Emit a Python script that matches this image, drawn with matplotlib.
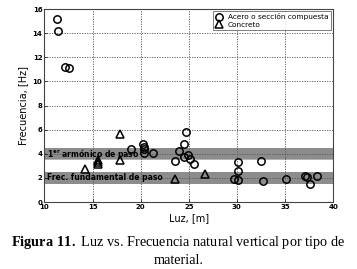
import numpy as np
import matplotlib.pyplot as plt

plt.rcParams['mathtext.fontset'] = 'custom'
plt.rcParams['mathtext.bf'] = 'Liberation Serif:bold'
plt.rcParams['mathtext.rm'] = 'Liberation Serif'
plt.rcParams['mathtext.sf'] = 'DejaVu Sans:bold'

# acero o seccion compuesta
luz_acero = [11.3, 11.45, 12.15, 12.5, 19.0, 20.25, 20.3, 20.3, 20.35, 21.3, 23.55, 24.0,
             24.5, 24.7, 24.5, 24.9, 25.1, 25.55, 30.1, 30.1, 29.7, 30.1, 32.55, 32.75,
             35.1, 37.05, 37.3, 37.6, 38.35]
frec_acero = [15.2, 14.2, 11.2, 11.1, 4.42, 4.78, 4.6, 4.37, 4.1, 4.03, 3.4, 4.25,
              4.78, 5.8, 3.7, 3.9, 3.57, 3.12, 3.35, 2.55, 1.93, 1.82, 3.37, 1.74,
              1.91, 2.18, 2.1, 1.47, 2.15]

# concreto
luz_conc = [14.2, 15.6, 15.6, 15.55, 17.85, 17.85, 23.55, 26.7]
frec_conc = [2.72, 3.45, 3.28, 3.18, 5.6, 3.48, 1.9, 2.3]

# bandas de frecuencia de paso
bandas = [(3.5, 4.5, '1$^{\\mathsf{er}}$ armónico de paso'), (1.5, 2.5, 'Frec. fundamental de paso')]

fig = plt.figure(figsize=(3.57, 2.69), dpi=100)
ax = fig.add_axes([0.1246, 0.249, 0.8084, 0.7175])

for b in bandas:
    ax.axhspan(b[0], b[1], color='#8c8c8c', lw=0, zorder=0)
    ax.text(10.3, (b[0] + b[1]) / 2, b[2], fontsize=5.5, fontweight='bold',
            va='center', ha='left', zorder=1)
ax.axhspan(3.5, 3.6, color='#b4b4b4', lw=0, zorder=0)

ax.plot(luz_acero, frec_acero, 'o', mfc='none', mec='black', mew=1.1, ms=5.3,
        label='Acero o sección compuesta', zorder=3)
ax.plot(luz_conc, frec_conc, '^', mfc='none', mec='black', mew=1.1, ms=5.8,
        label='Concreto', zorder=3)

ax.set_xlim(10, 40)
ax.set_ylim(0, 16)
ax.set_xticks([10, 15, 20, 25, 30, 35, 40])
ax.set_yticks([0, 2, 4, 6, 8, 10, 12, 14, 16])
ax.grid(True, ls=(0, (1.5, 1.5)), color='#555555', lw=0.6)
ax.set_axisbelow(True)
ax.tick_params(labelsize=5, direction='in', length=2, width=0.5, pad=1.5)
for lab in ax.get_xticklabels() + ax.get_yticklabels():
    lab.set_fontweight('bold')
for s in ax.spines.values():
    s.set_linewidth(0.8)
    s.set_color('#444444')

ax.set_xlabel('Luz, [m]', fontsize=7, labelpad=2)
ax.set_ylabel('Frecuencia, [Hz]', fontsize=7, labelpad=3)

leg = ax.legend(loc='upper right', fontsize=5.3, frameon=True, fancybox=False,
                borderpad=0.3, handletextpad=0.6, labelspacing=0.2, handlelength=1.2,
                borderaxespad=0.3, edgecolor='#444444')
leg.get_frame().set_linewidth(0.6)

fig.text(0.5, 0.097, r'$\mathbf{Figura\ 11.}$ Luz vs. Frecuencia natural vertical por tipo de',
         ha='center', va='center', fontsize=10.3, family='Liberation Serif')
fig.text(0.5, 0.033, 'material.', ha='center', va='center', fontsize=10.3,
         family='Liberation Serif')

fig.savefig('out.png', dpi=100)
